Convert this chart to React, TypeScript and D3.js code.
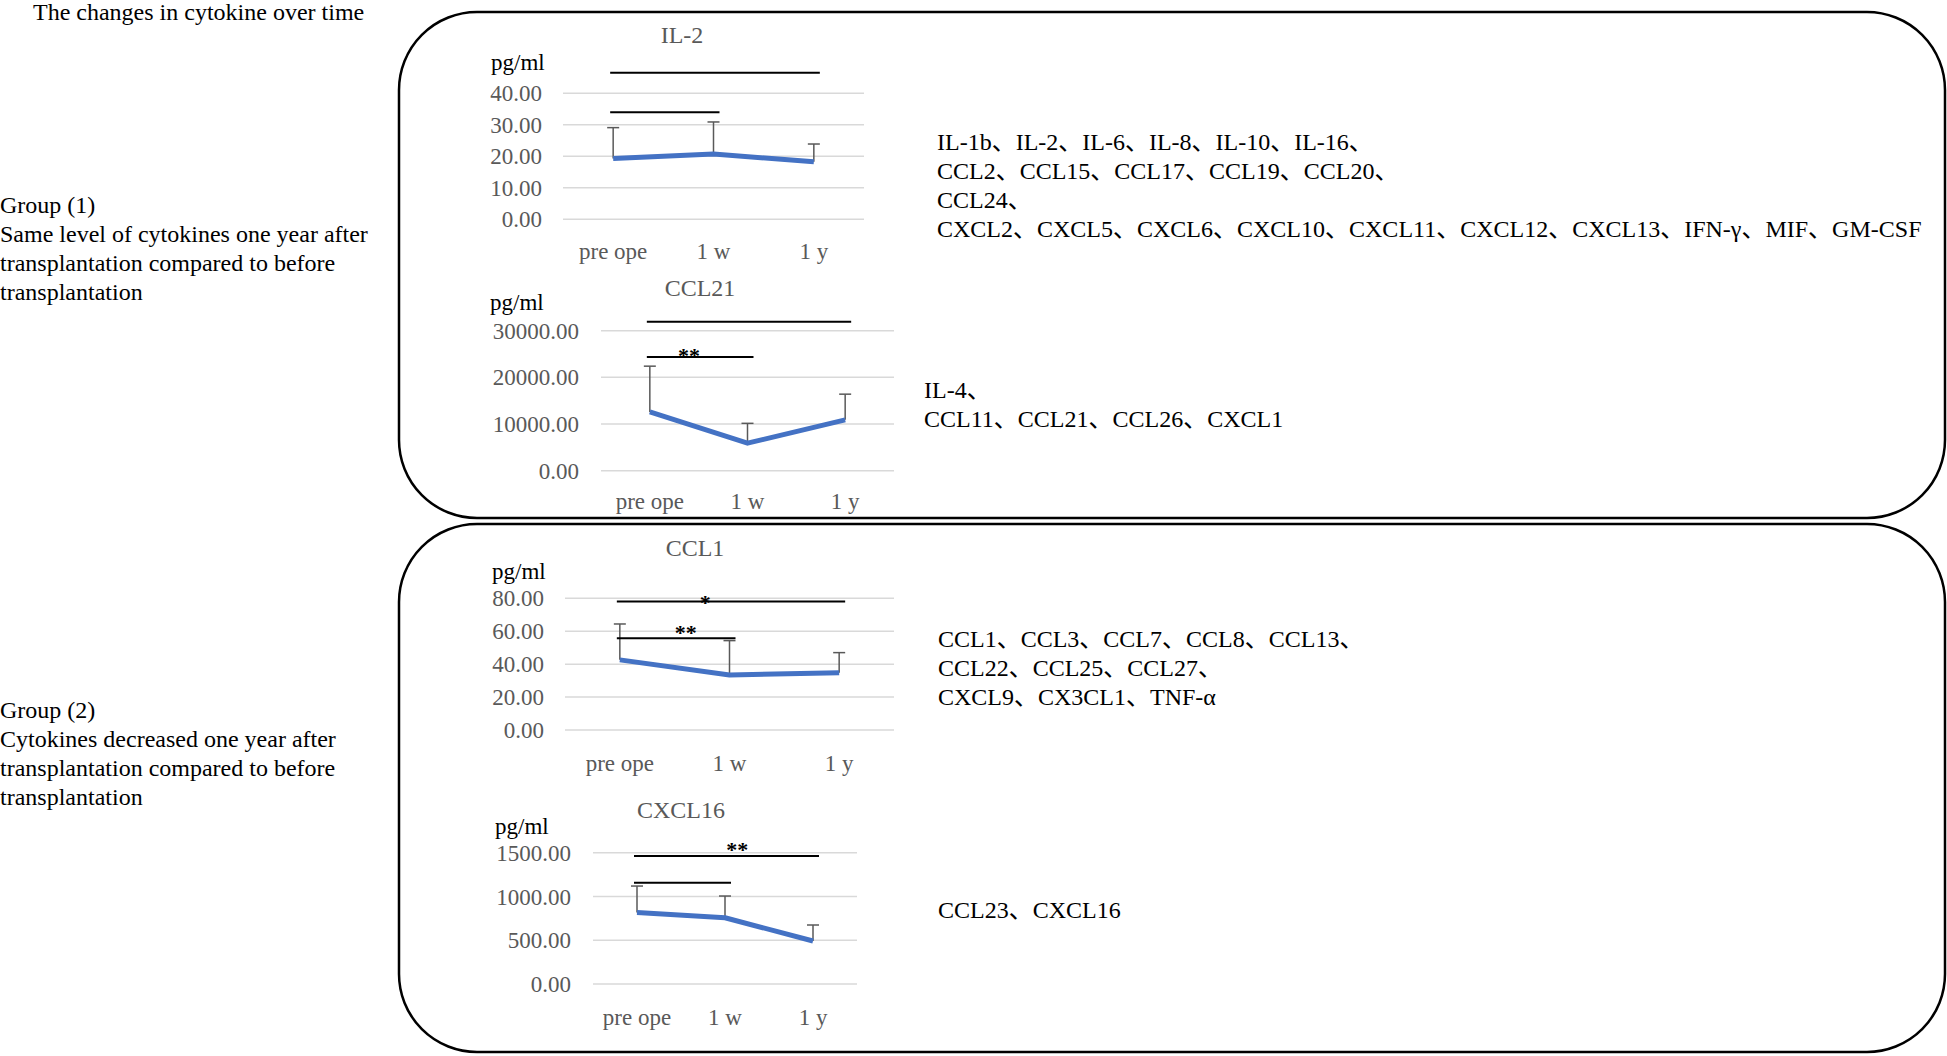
import React from "react";
import * as d3 from "d3";

const timepoints = ["pre ope", "1 w", "1 y"];

// mean and upper SD per timepoint
const il2Mean = [19.3, 20.7, 18.3];
const il2Sd = [9.8, 10.2, 5.6];
const il2Ticks = [0, 10, 20, 30, 40];
const il2Brackets = [
  { from: 0, to: 2, y: 46.5, label: "", labelY: 46.5, labelAt: 0.5 },
  { from: 0, to: 1, y: 34, label: "", labelY: 34, labelAt: 0.5 },
];

const ccl21Mean = [12600, 5900, 10900];
const ccl21Sd = [9800, 4250, 5500];
const ccl21Ticks = [0, 10000, 20000, 30000];
const ccl21Brackets = [
  { from: 0, to: 2, y: 31900, label: "", labelY: 31900, labelAt: 0.5 },
  { from: 0, to: 1, y: 24350, label: "**", labelY: 23000, labelAt: 0.4 },
];

const ccl1Mean = [42.6, 33.4, 34.8];
const ccl1Sd = [21.8, 20.9, 12.2];
const ccl1Ticks = [0, 20, 40, 60, 80];
const ccl1Brackets = [
  { from: 0, to: 2, y: 78, label: "*", labelY: 73, labelAt: 0.39 },
  { from: 0, to: 1, y: 55.7, label: "**", labelY: 54.5, labelAt: 0.6 },
];

const cxcl16Mean = [818, 757, 491];
const cxcl16Sd = [301, 248, 183];
const cxcl16Ticks = [0, 500, 1000, 1500];
const cxcl16Brackets = [
  { from: 0, to: 2, y: 1461, label: "**", labelY: 1450, labelAt: 0.57 },
  { from: 0, to: 1, y: 1156, label: "", labelY: 1156, labelAt: 0.5 },
];

const pageTitle = "The changes in cytokine over time";
const group1Text = [
  "Group (1)",
  "Same level of cytokines one year after",
  "transplantation compared to before",
  "transplantation",
];
const group2Text = [
  "Group (2)",
  "Cytokines decreased one year after",
  "transplantation compared to before",
  "transplantation",
];
const list1 = [
  "IL-1b、IL-2、IL-6、IL-8、IL-10、IL-16、",
  "CCL2、CCL15、CCL17、CCL19、CCL20、",
  "CCL24、",
  "CXCL2、CXCL5、CXCL6、CXCL10、CXCL11、CXCL12、CXCL13、IFN-γ、MIF、GM-CSF",
];
const list2 = ["IL-4、", "CCL11、CCL21、CCL26、CXCL1"];
const list3 = [
  "CCL1、CCL3、CCL7、CCL8、CCL13、",
  "CCL22、CCL25、CCL27、",
  "CXCL9、CX3CL1、TNF-α",
];
const list4 = ["CCL23、CXCL16"];

const FONT = "'Times New Roman', 'Liberation Serif', 'Noto Sans CJK SC', serif";
const GRAY = "#595959";

type Bracket = { from: number; to: number; y: number; label: string; labelY: number; labelAt: number };

type ChartProps = {
  name: string;
  mean: number[];
  sd: number[];
  ticks: number[];
  brackets: Bracket[];
  left: number;
  right: number;
  yZero: number;
  yTop: number;
  titleX: number;
  titleY: number;
  unitX: number;
  unitY: number;
  tickRight: number;
  labelY: number;
};

function LineChart(p: ChartProps) {
  const x = d3.scaleBand().domain(timepoints).range([p.left, p.right]);
  const cx = (i: number) => (x(timepoints[i]) as number) + x.bandwidth() / 2;
  const y = d3
    .scaleLinear()
    .domain([0, p.ticks[p.ticks.length - 1]])
    .range([p.yZero, p.yTop]);
  const fmt = d3.format(".2f");
  const line = d3
    .line<number>()
    .x((_, i) => cx(i))
    .y((d) => y(d));

  return (
    <g>
      <text x={p.titleX} y={p.titleY} textAnchor="middle" fill={GRAY} fontSize={24}>
        {p.name}
      </text>
      <text x={p.unitX} y={p.unitY} fill="#000" fontSize={23}>
        pg/ml
      </text>
      {p.ticks.map((t) => (
        <g key={t}>
          <line x1={p.left} x2={p.right} y1={y(t)} y2={y(t)} stroke="#d9d9d9" strokeWidth={1.5} />
          <text x={p.tickRight} y={y(t)} dy="0.35em" textAnchor="end" fill={GRAY} fontSize={23}>
            {fmt(t)}
          </text>
        </g>
      ))}
      {timepoints.map((t, i) => (
        <text key={t} x={cx(i)} y={p.labelY} textAnchor="middle" fill={GRAY} fontSize={23}>
          {t}
        </text>
      ))}
      {p.mean.map((m, i) => (
        <g key={i} stroke={GRAY} strokeWidth={1.5}>
          <line x1={cx(i)} x2={cx(i)} y1={y(m)} y2={y(m + p.sd[i])} />
          <line x1={cx(i) - 6} x2={cx(i) + 6} y1={y(m + p.sd[i])} y2={y(m + p.sd[i])} />
        </g>
      ))}
      <path d={line(p.mean) || ""} fill="none" stroke="#4472C4" strokeWidth={5} strokeLinejoin="round" />
      {p.brackets.map((b, i) => (
        <g key={i}>
          <line x1={cx(b.from) - 3} x2={cx(b.to) + 6} y1={y(b.y)} y2={y(b.y)} stroke="#000" strokeWidth={2} />
          {b.label && (
            <text
              x={cx(b.from) + (cx(b.to) - cx(b.from)) * b.labelAt}
              y={y(b.labelY)}
              textAnchor="middle"
              fontWeight="bold"
              fontSize={22}
              fill="#000"
            >
              {b.label}
            </text>
          )}
        </g>
      ))}
    </g>
  );
}

function TextBlock({ lines, x, y }: { lines: string[]; x: number; y: number }) {
  return (
    <text x={x} y={y} fontSize={24} fill="#000">
      {lines.map((l, i) => (
        <tspan key={i} x={x} y={y + i * 29}>
          {l}
        </tspan>
      ))}
    </text>
  );
}

export default function App() {
  return (
    <svg
      width={1947}
      height={1056}
      style={{ position: "absolute", left: 0, top: 0, background: "#fff" }}
      fontFamily={FONT}
    >
      <rect x={399} y={12} width={1546} height={506} rx={78} ry={78} fill="none" stroke="#000" strokeWidth={2.5} />
      <rect x={399} y={524} width={1546} height={528} rx={78} ry={78} fill="none" stroke="#000" strokeWidth={2.5} />

      <text x={33} y={20} fontSize={24} fill="#000">
        {pageTitle}
      </text>
      <TextBlock lines={group1Text} x={0} y={213} />
      <TextBlock lines={group2Text} x={0} y={718} />

      <TextBlock lines={list1} x={937} y={150} />
      <TextBlock lines={list2} x={924} y={398} />
      <TextBlock lines={list3} x={938} y={647} />
      <TextBlock lines={list4} x={938} y={918} />

      <LineChart
        name="IL-2" mean={il2Mean} sd={il2Sd} ticks={il2Ticks} brackets={il2Brackets}
        left={563} right={864} yZero={219.3} yTop={93.3}
        titleX={682} titleY={43} unitX={491} unitY={70} tickRight={542} labelY={259}
      />
      <LineChart
        name="CCL21" mean={ccl21Mean} sd={ccl21Sd} ticks={ccl21Ticks} brackets={ccl21Brackets}
        left={601} right={894} yZero={470.7} yTop={330.7}
        titleX={700} titleY={296} unitX={490} unitY={310} tickRight={579} labelY={509}
      />
      <LineChart
        name="CCL1" mean={ccl1Mean} sd={ccl1Sd} ticks={ccl1Ticks} brackets={ccl1Brackets}
        left={565} right={894} yZero={730} yTop={598.3}
        titleX={695} titleY={556} unitX={492} unitY={579} tickRight={544} labelY={771}
      />
      <LineChart
        name="CXCL16" mean={cxcl16Mean} sd={cxcl16Sd} ticks={cxcl16Ticks} brackets={cxcl16Brackets}
        left={593} right={857} yZero={984} yTop={852.7}
        titleX={681} titleY={818} unitX={495} unitY={834} tickRight={571} labelY={1025}
      />
    </svg>
  );
}
